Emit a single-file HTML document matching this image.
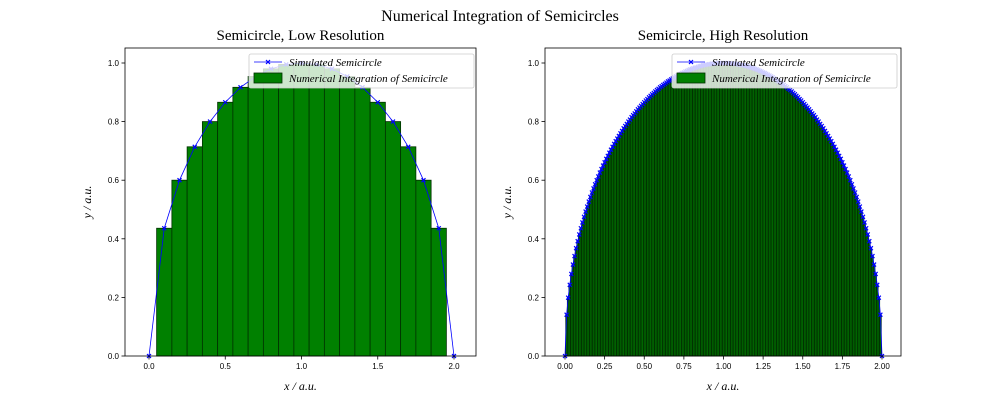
<!DOCTYPE html>
<html><head><meta charset="utf-8"><style>
body{margin:0;background:#fff;width:1000px;height:400px;overflow:hidden}
text{font-family:"Liberation Sans",sans-serif}
.serif{font-family:"Liberation Serif",serif}
</style></head><body>
<svg id="fig" width="1000" height="400" xmlns="http://www.w3.org/2000/svg">
<text class="serif" x="500" y="21" text-anchor="middle" font-size="16">Numerical Integration of Semicircles</text>
</svg>
<script>
// Low resolution data
const lowX = [0,0.1,0.2,0.3,0.4,0.5,0.6,0.7,0.8,0.9,1.0,1.1,1.2,1.3,1.4,1.5,1.6,1.7,1.8,1.9,2.0];
const lowY = [0,0.436,0.600,0.714,0.800,0.866,0.917,0.954,0.980,0.995,1.0,0.995,0.980,0.954,0.917,0.866,0.800,0.714,0.600,0.436,0];
// High resolution data (x = 0..2 step 0.01)
const highYRise = [0,.141,.199,.243,.280,.312,.341,.368,.392,.415,.436,.456,.475,.493,.510,.527,.543,.558,.572,.586,.600,.613,.626,.638,.650,.661,.673,.683,.694,.704,.714,.724,.733,.742,.751,.760,.768,.777,.785,.792,.800,.807,.815,.822,.828,.835,.842,.848,.854,.860,.866,.872,.877,.883,.888,.893,.898,.903,.908,.912,.917,.921,.925,.929,.933,.937,.940,.944,.947,.951,.954,.957,.960,.963,.966,.968,.971,.973,.976,.978,.980,.982,.984,.985,.987,.989,.990,.992,.993,.994,.995,.996,.997,.998,.998,.999,.999,1,1,1,1];
const highYFall = [1,1,1,1,.999,.999,.998,.998,.997,.996,.995,.994,.993,.992,.990,.989,.987,.985,.984,.982,.980,.978,.976,.973,.971,.968,.966,.963,.960,.957,.954,.951,.947,.944,.940,.937,.933,.929,.925,.921,.917,.912,.908,.903,.898,.893,.888,.883,.877,.872,.866,.860,.854,.848,.842,.835,.828,.822,.815,.807,.800,.792,.785,.777,.768,.760,.751,.742,.733,.724,.714,.704,.694,.683,.673,.661,.650,.638,.626,.613,.600,.586,.572,.558,.543,.527,.510,.493,.475,.456,.436,.415,.392,.368,.341,.312,.280,.243,.199,.141,0];
const highStep = 0.01;
const yTicks = [0,0.2,0.4,0.6,0.8,1.0];
const yTickLabels = ["0.0","0.2","0.4","0.6","0.8","1.0"];
const lowXTicks = [0,0.5,1.0,1.5,2.0];
const lowXTickLabels = ["0.0","0.5","1.0","1.5","2.0"];
const highXTicks = [0,0.25,0.5,0.75,1.0,1.25,1.5,1.75,2.0];
const highXTickLabels = ["0.00","0.25","0.50","0.75","1.00","1.25","1.50","1.75","2.00"];

const highY = highYRise.concat(highYFall.slice(1));
const highX = highY.map((_, i) => +(i * highStep).toFixed(2));

const NS = "http://www.w3.org/2000/svg";
const fig = document.getElementById('fig');
function mk(tag, attrs, parent) {
  const e = document.createElementNS(NS, tag);
  for (const k in attrs) e.setAttribute(k, attrs[k]);
  (parent || fig).appendChild(e);
  return e;
}

function panel(opt) {
  const g = mk('g', {});
  
  
  const L = opt.left, R = opt.right, T = 48, B = 356;
  const sx = v => opt.x0 + v * (opt.x2 - opt.x0) / 2;
  const sy = v => 356 - v * 293;
  const t = mk('text', {x: (L + R) / 2, y: 40, 'text-anchor': 'middle', 'font-size': 15, class: 'serif'}, g);
  t.textContent = opt.title;
  
  
  const bw = opt.xs[1] - opt.xs[0];
  for (let i = 1; i < opt.xs.length - 1; i++) {
    const x = opt.xs[i], y = opt.ys[i];
    const r = mk('rect', {x: sx(x - bw / 2), y: sy(y), width: sx(x + bw / 2) - sx(x - bw / 2), height: sy(0) - sy(y), fill: '#008000', stroke: '#003000', 'stroke-width': opt.edge}, g);
    
    
  }
  const pts = opt.xs.map((x, i) => sx(x).toFixed(2) + ',' + sy(opt.ys[i]).toFixed(2)).join(' ');
  const pl = mk('polyline', {points: pts, fill: 'none', stroke: 'blue', 'stroke-width': 0.8}, g);
  
  
  opt.xs.forEach((x, i) => {
    const cx = sx(x), cy = sy(opt.ys[i]), s = 2;
    const m = mk('path', {d: `M${cx - s},${cy - s}L${cx + s},${cy + s}M${cx - s},${cy + s}L${cx + s},${cy - s}`, stroke: 'blue', 'stroke-width': 1.2}, g);
    
    
  });
  const f = mk('rect', {x: L, y: T, width: R - L, height: B - T, fill: 'none', stroke: '#000', 'stroke-width': 0.8}, g);
  
  
  yTicks.forEach((v, i) => {
    mk('line', {x1: L - 3.5, x2: L, y1: sy(v), y2: sy(v), stroke: '#000', 'stroke-width': 0.8}, g);
    const tx = mk('text', {x: L - 6, y: sy(v) + 3, 'text-anchor': 'end', 'font-size': 8}, g);
    tx.textContent = yTickLabels[i];
    
    
  });
  opt.xt.forEach((v, i) => {
    mk('line', {x1: sx(v), x2: sx(v), y1: B, y2: B + 3.5, stroke: '#000', 'stroke-width': 0.8}, g);
    const tx = mk('text', {x: sx(v), y: B + 13, 'text-anchor': 'middle', 'font-size': 8}, g);
    tx.textContent = opt.xtl[i];
    
    
  });
  const xl = mk('text', {x: (L + R) / 2, y: 390, 'text-anchor': 'middle', 'font-size': 12, 'font-style': 'italic', class: 'serif'}, g);
  xl.textContent = 'x / a.u.';
  
  
  const yl = mk('text', {x: 0, y: 0, transform: `translate(${L - 34},${(T + B) / 2}) rotate(-90)`, 'text-anchor': 'middle', 'font-size': 12, 'font-style': 'italic', class: 'serif'}, g);
  yl.textContent = 'y / a.u.';
  
  
  const lx = opt.legX, ly = 54;
  const lg = mk('g', {}, g);
  
  
  mk('rect', {x: lx, y: ly, width: 225, height: 34, rx: 2, fill: 'rgba(255,255,255,0.8)', stroke: '#ccc', 'stroke-width': 0.8}, lg);
  mk('line', {x1: lx + 5, x2: lx + 33, y1: ly + 8, y2: ly + 8, stroke: 'blue', 'stroke-width': 0.8}, lg);
  mk('path', {d: `M${lx + 17},${ly + 6}L${lx + 21},${ly + 10}M${lx + 17},${ly + 10}L${lx + 21},${ly + 6}`, stroke: 'blue', 'stroke-width': 1.2}, lg);
  const e1 = mk('text', {x: lx + 40, y: ly + 12, 'font-size': 11, 'font-style': 'italic', class: 'serif'}, lg);
  e1.textContent = 'Simulated Semicircle';
  
  
  mk('rect', {x: lx + 5, y: ly + 19, width: 28, height: 10, fill: '#008000', stroke: '#003000', 'stroke-width': 0.8}, lg);
  const e2 = mk('text', {x: lx + 40, y: ly + 28, 'font-size': 11, 'font-style': 'italic', class: 'serif'}, lg);
  e2.textContent = 'Numerical Integration of Semicircle';
  
  
}

panel({name: 'low-resolution-panel', title: 'Semicircle, Low Resolution', left: 125, right: 476, x0: 149, x2: 454,
  xs: lowX, ys: lowY, xt: lowXTicks, xtl: lowXTickLabels, legX: 249, edge: 0.8});
panel({name: 'high-resolution-panel', title: 'Semicircle, High Resolution', left: 545, right: 901, x0: 565, x2: 882,
  xs: highX, ys: highY, xt: highXTicks, xtl: highXTickLabels, legX: 672, edge: 0.9});
</script>
</body></html>
